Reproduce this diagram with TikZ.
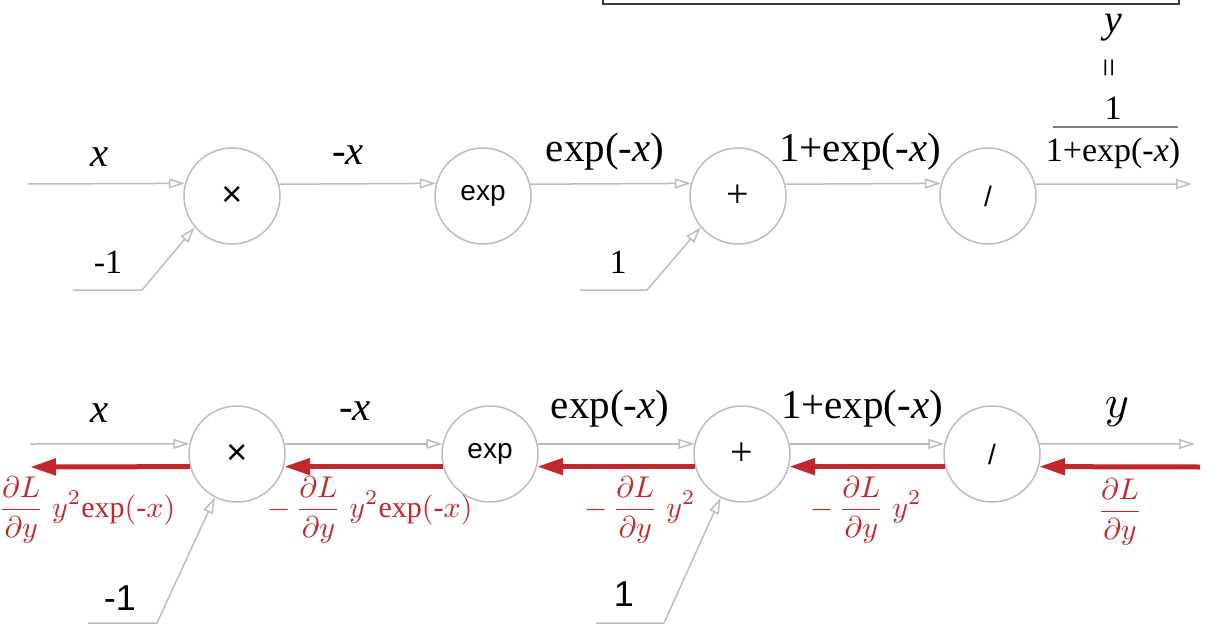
\documentclass[tikz,border=0pt]{standalone}
\usepackage{fontspec}
\setmainfont{Liberation Serif}
\newfontfamily\sansf{Liberation Sans}
\usetikzlibrary{arrows.meta}
\definecolor{gline}{HTML}{BDBDBD}
\definecolor{gred}{HTML}{C1272D}
\definecolor{boxc}{HTML}{3A3A3A}
\begin{document}
\begin{tikzpicture}[x=1pt,y=-1pt,
  op/.style={circle, draw=gline, line width=1.5pt, minimum size=96pt, inner sep=0pt, fill=white,
    font=\sansf\fontsize{28}{30}\selectfont},
  optimes/.style={op, font=\sansf\fontsize{36}{40}\selectfont},
  opplus/.style={op, font=\fontsize{40}{44}\selectfont},
  opdiv/.style={op, font=\sansf\fontsize{28}{30}\selectfont},
  fwd/.style={draw=gline, line width=1.5pt, -{Triangle[open,length=16pt,width=10pt]}},
  bwd/.style={draw=gred, line width=5pt, -{Triangle[length=26pt,width=16pt]}},
  lbl/.style={inner sep=0pt, font=\fontsize{41}{48}\selectfont},
  clbl/.style={inner sep=0pt, font=\fontsize{34}{40}\selectfont},
  slbl/.style={inner sep=0pt, font=\sansf\fontsize{36}{40}\selectfont},
  rlbl/.style={inner sep=0pt, text=gred, font=\fontsize{10}{12}\selectfont, scale=3, transform shape}]
\useasboundingbox (0,0) rectangle (1218,637);
% top box (partly visible)
\draw[boxc, line width=1.5pt] (603,-2) -- (603,4) -- (1179,4) -- (1179,-2);

% ---------- top row ----------
\node[optimes] (t1) at (232,196) {×};
\node[op] (t2) at (483,196) {exp};
\node[opplus] (t3) at (738,196) {+};
\node[opdiv] (t4) at (988,196) {/};
\coordinate (ti) at (28,184);
\coordinate (to) at (1192,184);
\draw[fwd] (ti) -- (t1.165.5);
\draw[fwd] (t1.14.5) -- (t2.165.5);
\draw[fwd] (t2.14.5) -- (t3.165.5);
\draw[fwd] (t3.14.5) -- (t4.165.5);
\draw[fwd] (t4.14.5) -- (to);
\coordinate (ta0) at (73,290); \coordinate (ta1) at (142,290);
\draw[fwd] (ta0) -- (ta1) -- (t1.220);
\coordinate (tb0) at (580,290); \coordinate (tb1) at (647,290);
\draw[fwd] (tb0) -- (tb1) -- (t3.220);

\node[lbl] (tlx) at (100,157) {\textit{x}};
\node[lbl] (tlmx) at (348,155) {-\textit{x}};
\node[lbl] (tlexp) at (605,152) {exp(-\textit{x})};
\node[lbl] (tl1exp) at (860,152) {1+exp(-\textit{x})};
\node[clbl] (tlm1) at (108,262) {-1};
\node[clbl] (tl1) at (618,262) {1};
% output label stack
\node[lbl, font=\fontsize{40}{44}\selectfont] (ty) at (1113,28) {\textit{y}};
\node[inner sep=0pt, rotate=90, font=\fontsize{34}{36}\selectfont] (teq) at (1113,68) {=};
\node[clbl] (tnum) at (1113,108) {1};
\node[clbl] (tden) at (1113,153) {1+exp(-\textit{x})};
\coordinate (fb0) at (1053,127); \coordinate (fb1) at (1178,127);
\draw[gray, line width=1.5pt] (fb0) -- (fb1);

% ---------- bottom row ----------
\node[optimes] (b1) at (237,454) {×};
\node[op] (b2) at (490,454) {exp};
\node[opplus] (b3) at (742,454) {+};
\node[opdiv] (b4) at (992,454) {/};
\coordinate (bi) at (30,444);
\coordinate (bo) at (1195,444);
\draw[fwd] (bi) -- (b1.168);
\draw[fwd] (b1.12) -- (b2.168);
\draw[fwd] (b2.12) -- (b3.168);
\draw[fwd] (b3.12) -- (b4.168);
\draw[fwd] (b4.12) -- (bo);
\coordinate (ri) at (1200,467);
\coordinate (ro) at (30,467);
\draw[bwd] (ri) -- (b4.-15.7);
\draw[bwd] (b4.195.7) -- (b3.-15.7);
\draw[bwd] (b3.195.7) -- (b2.-15.7);
\draw[bwd] (b2.195.7) -- (b1.-15.7);
\draw[bwd] (b1.195.7) -- (ro);
\coordinate (ba0) at (88,623); \coordinate (ba1) at (157,623);
\draw[fwd] (ba0) -- (ba1) -- (b1.243);
\coordinate (bb0) at (596,623); \coordinate (bb1) at (664,623);
\draw[fwd] (bb0) -- (bb1) -- (b3.244);

\node[lbl] (blx) at (100,413) {\textit{x}};
\node[lbl] (blmx) at (355,411) {-\textit{x}};
\node[lbl] (blexp) at (610,409) {exp(-\textit{x})};
\node[lbl] (bl1exp) at (862,409) {1+exp(-\textit{x})};
\node[inner sep=0pt, font=\fontsize{10}{12}\selectfont, scale=4.6, transform shape] (bly) at (1117,412) {$y$};
\node[slbl] (blm1) at (120,598) {-1};
\node[slbl] (bl1) at (624,594) {1};

\node[rlbl, anchor=west] (g1) at (-2,510) {$\displaystyle\frac{\partial L}{\partial y}\;y^{2}\mathrm{exp}(\mbox{-}x)$};
\node[rlbl] (g2) at (370,510) {$\displaystyle-\,\frac{\partial L}{\partial y}\;y^{2}\mathrm{exp}(\mbox{-}x)$};
\node[rlbl] (g3) at (640,510) {$\displaystyle-\,\frac{\partial L}{\partial y}\;y^{2}$};
\node[rlbl] (g4) at (866,510) {$\displaystyle-\,\frac{\partial L}{\partial y}\;y^{2}$};
\node[rlbl] (g5) at (1120,512) {$\displaystyle\frac{\partial L}{\partial y}$};
\end{tikzpicture}
\end{document}
